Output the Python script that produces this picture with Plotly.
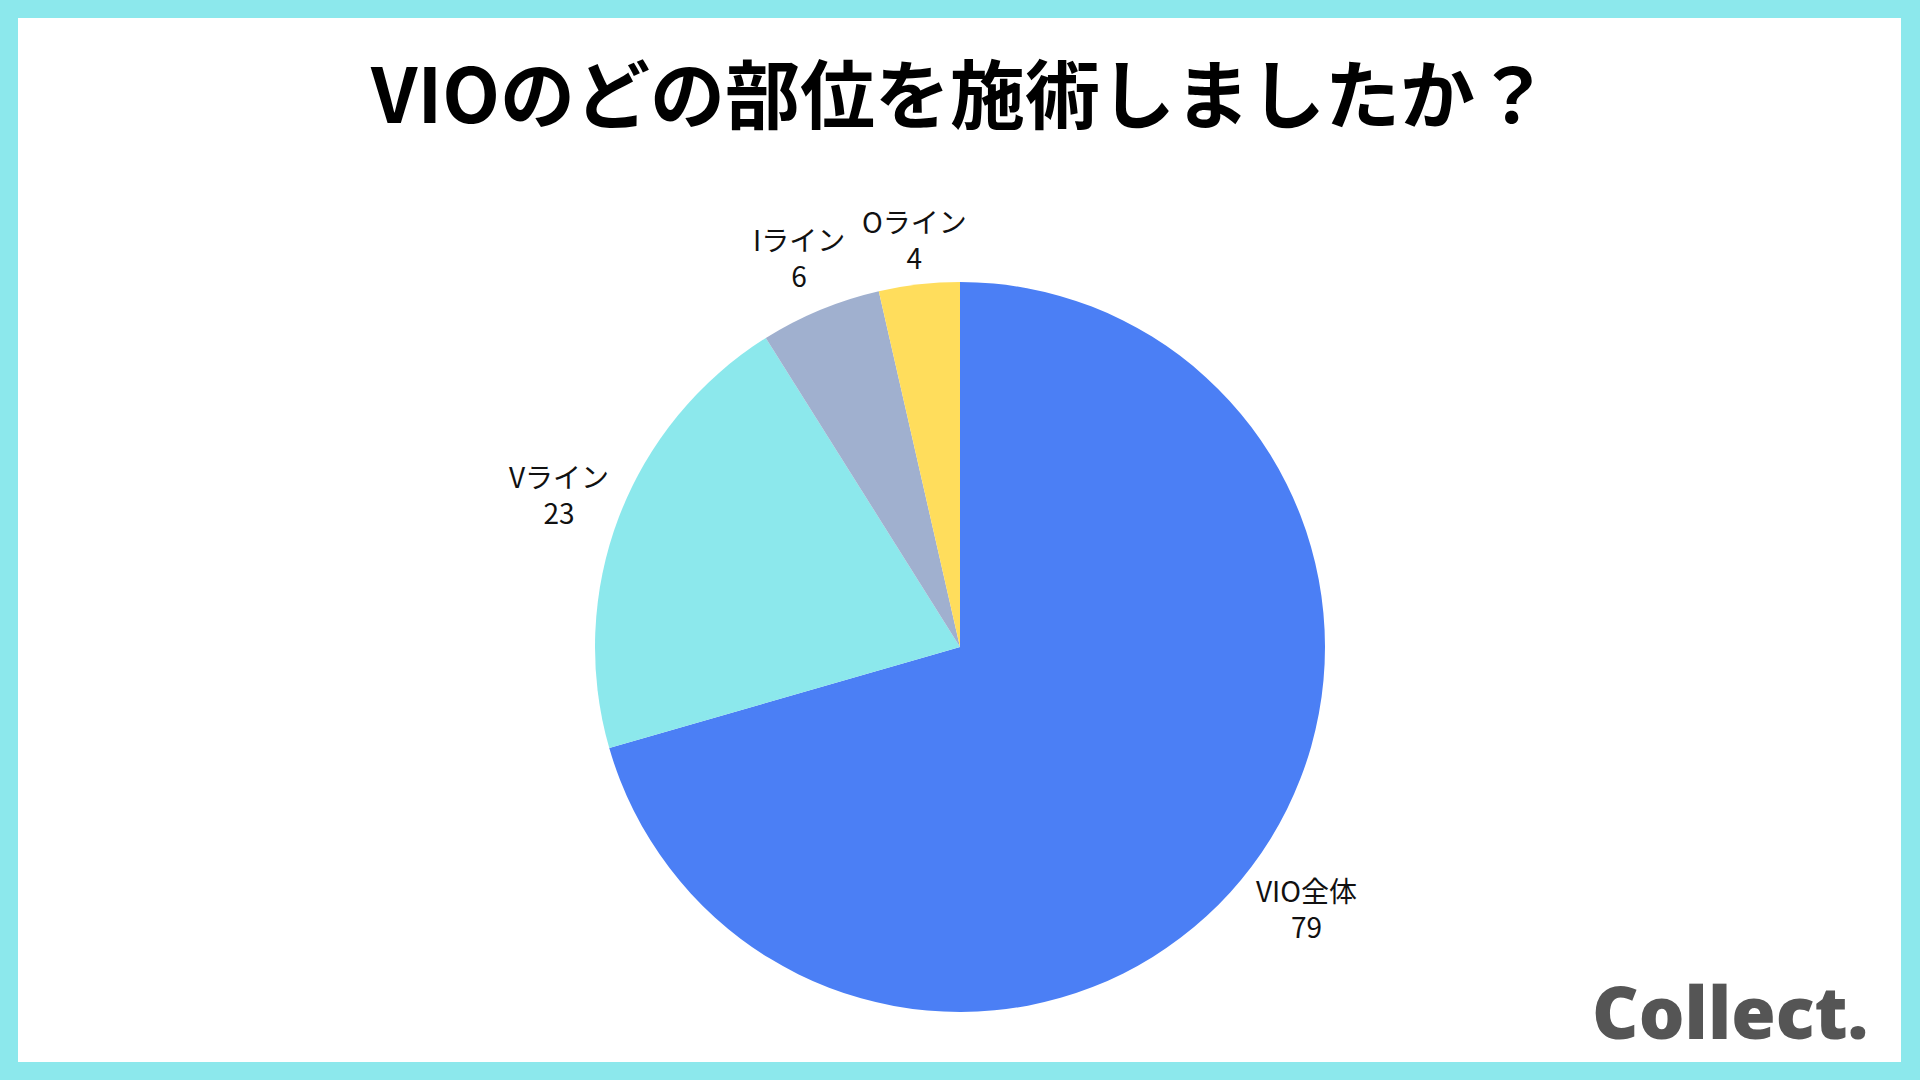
import math
import plotly.graph_objects as go

labels = ["VIO全体", "Vライン", "Iライン", "Oライン"]
values = [79, 23, 6, 4]
colors = ["#4B7FF5", "#8CE8EC", "#A0B0CF", "#FFDD5C"]
title_text = "VIOのどの部位を施術しましたか？"
logo_text = "Collect."

W, H = 1920, 1080
CX, CY, R = 960, 647, 365  # pie centre / radius in pixels (from top-left)
LABEL_FS = 28
GAP = 5

fig = go.Figure()
fig.add_trace(go.Pie(
    labels=labels,
    values=values,
    marker=dict(colors=colors, line=dict(width=0)),
    sort=False,
    direction="clockwise",
    rotation=0,
    textinfo="none",
    hoverinfo="label+value",
    showlegend=False,
    domain=dict(x=[(CX - R) / W, (CX + R) / W], y=[(H - CY - R) / H, (H - CY + R) / H]),
))


def text_width(s, fs):
    w = 0
    for ch in s:
        w += fs * (1.0 if ord(ch) > 0x2000 else 0.6)
    return w


annotations = []
total = sum(values)
cum = 0
for lab, v in zip(labels, values):
    mid = (cum + v / 2) / total * 360.0
    cum += v
    ang = math.radians(90 - mid)
    ux, uy = math.cos(ang), -math.sin(ang)  # screen direction (y down)
    w = max(text_width(lab, LABEL_FS), text_width(str(v), LABEL_FS))
    h = 2 * LABEL_FS * 1.25
    ext = abs(ux) * w / 2 + abs(uy) * h / 2
    d = R + GAP + ext
    px, py = CX + ux * d, CY + uy * d
    annotations.append(dict(
        text=f"{lab}<br>{v}", xref="paper", yref="paper",
        x=px / W, y=1 - py / H, xanchor="center", yanchor="middle",
        showarrow=False, align="center",
        font=dict(family="Noto Sans CJK JP", size=LABEL_FS, color="#111111"),
    ))

annotations += [
    dict(text=title_text, xref="paper", yref="paper", x=0.5, y=1 - 90 / H,
         xanchor="center", yanchor="middle", showarrow=False,
         font=dict(family="Noto Sans CJK JP", size=75, color="#000000", weight="bold")),
    dict(text=logo_text, xref="paper", yref="paper", x=1870 / W, y=1 - 1011 / H,
         xanchor="right", yanchor="middle", showarrow=False,
         font=dict(family="Open Sans", size=72, color="#555555", weight=800)),
]

fig.update_layout(
    width=W, height=H,
    margin=dict(l=0, r=0, t=0, b=0),
    paper_bgcolor="#8CE8EC",
    plot_bgcolor="#ffffff",
    shapes=[dict(type="rect", xref="paper", yref="paper",
                 x0=18 / W, x1=(W - 19) / W, y0=18 / H, y1=(H - 18) / H,
                 fillcolor="#ffffff", line=dict(width=0), layer="below")],
    annotations=annotations,
)

fig.write_html("out.html")
